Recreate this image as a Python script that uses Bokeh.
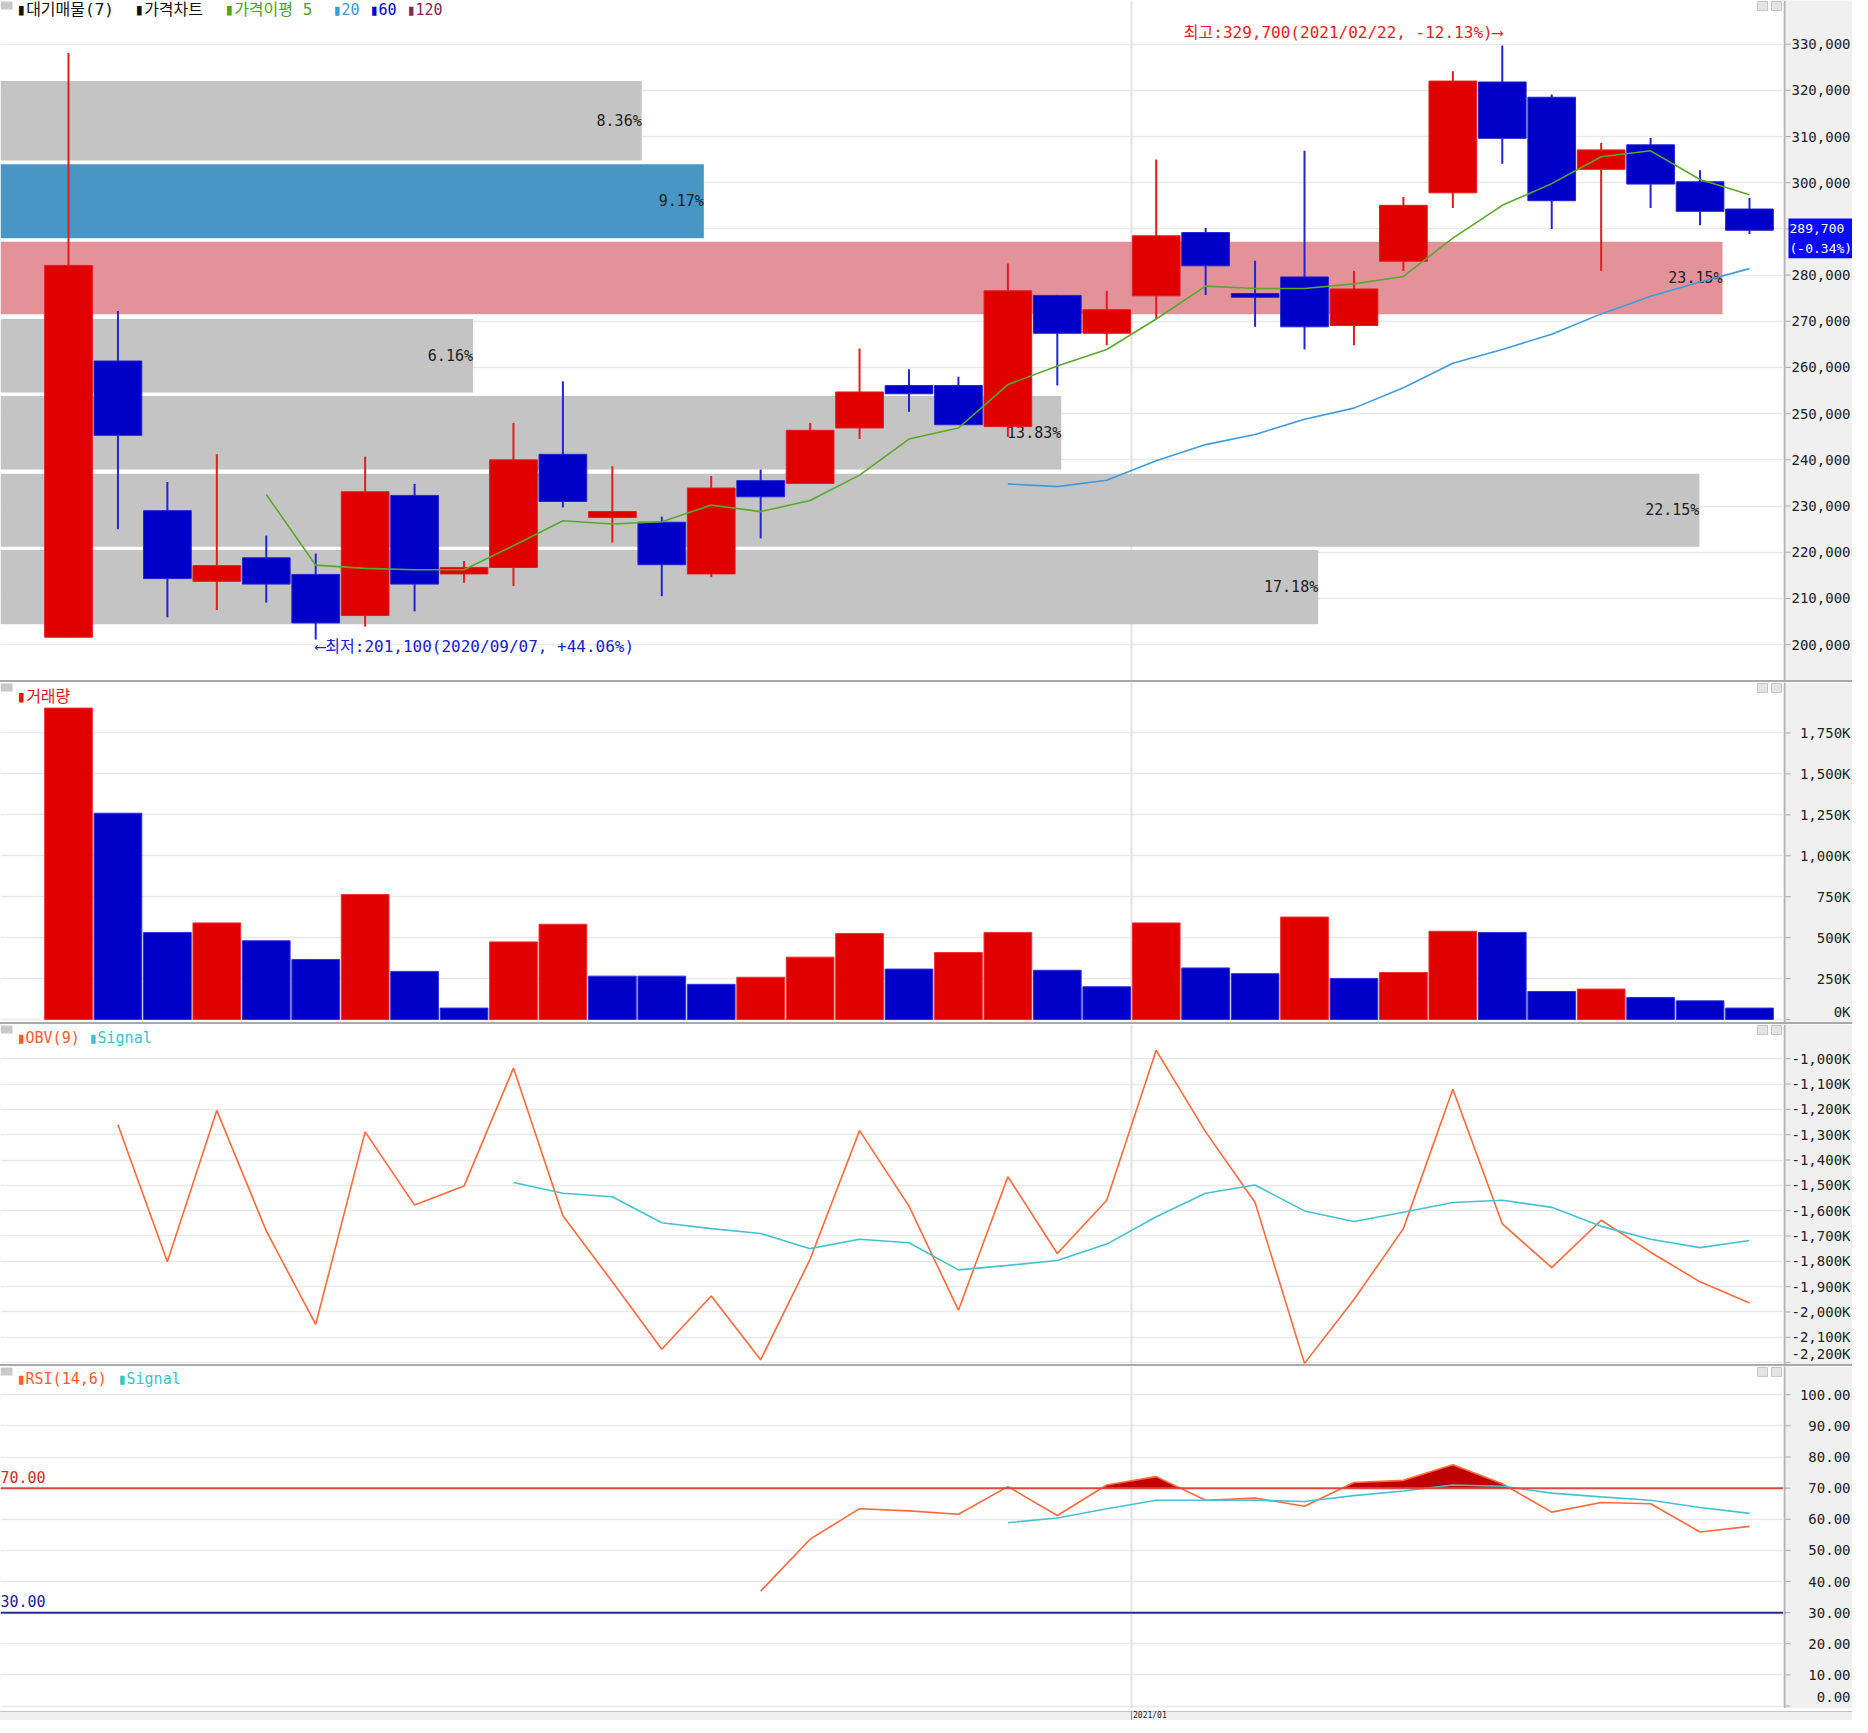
import math
from bokeh.plotting import figure
from bokeh.models import (Range1d, FixedTicker, Label, Span, Div, ColumnDataSource, BoxAnnotation)
from bokeh.layouts import column, row
from bokeh.embed import file_html
from bokeh.resources import INLINE
from bokeh.core.properties import value

NaN = float("nan")

# ---------------- data ----------------
week_dates = ["2020/08/03", "2020/08/10", "2020/08/17", "2020/08/24", "2020/08/31",
              "2020/09/07", "2020/09/14", "2020/09/21", "2020/09/28", "2020/10/05",
              "2020/10/12", "2020/10/19", "2020/10/26", "2020/11/02", "2020/11/09",
              "2020/11/16", "2020/11/23", "2020/11/30", "2020/12/07", "2020/12/14",
              "2020/12/21", "2020/12/28", "2021/01/04", "2021/01/11", "2021/01/18",
              "2021/01/25", "2021/02/01", "2021/02/08", "2021/02/15", "2021/02/22",
              "2021/03/01", "2021/03/08", "2021/03/15", "2021/03/22", "2021/03/29"]

open_ = [201600, 261400, 229000, 213700, 218800, 215200, 206300, 232300, 215300, 216700,
         241200, 227500, 226500, 215300, 235500, 234900, 246900, 256100, 256100, 247200,
         275600, 267400, 275500, 289200, 276000, 279600, 269100, 283000, 297800, 321800,
         318500, 302900, 308200, 300200, 294300]
high = [328100, 272200, 235200, 241200, 223600, 219700, 240700, 234800, 218100, 248000,
        257000, 238600, 227700, 236500, 237900, 248000, 264100, 259600, 258000, 282500,
        275700, 276600, 305000, 290200, 283100, 306900, 280900, 296900, 324100, 329700,
        319100, 308600, 309700, 302700, 296700]
low = [201600, 225000, 205900, 207500, 209100, 201100, 203900, 207200, 213400, 212700,
       229700, 222100, 210500, 214600, 223000, 234900, 244500, 250400, 247600, 245000,
       256100, 264800, 270500, 275700, 268800, 263900, 264800, 280900, 294500, 304100,
       290000, 280900, 294500, 290800, 288900]
close = [282100, 245300, 214300, 217100, 213100, 204700, 233100, 213100, 216700, 240000,
         231000, 228800, 217300, 233900, 232000, 246400, 254700, 254300, 247600, 276600,
         267400, 272500, 288500, 282000, 275200, 268800, 277000, 295100, 322000, 309600,
         296100, 307100, 299700, 293800, 289700]
last_change_pct = -0.34

ma5 = [NaN] * 4 + [232500, 217200, 216500, 216200, 216200, 221400, 226800, 226100, 226600,
                   230200, 228800, 231200, 236700, 244500, 246900, 256300, 260300, 263900,
                   270500, 277600, 277100, 277100, 278100, 279700, 288000, 295100, 299800,
                   305600, 306900, 300700, 297400]
ma20 = [NaN] * 19 + [234800, 234200, 235600, 239800, 243300, 245500, 248800, 251200, 255600,
                     260900, 263900, 267200, 271600, 275400, 278500, 281400]

# volume profile (대기매물)
profile_top = [322000, 304000, 287200, 270500, 253800, 237000, 220500]
profile_bottom = [304800, 288000, 271500, 254600, 237900, 221200, 204400]
profile_pct = [8.36, 9.17, 23.15, 6.16, 13.83, 22.15, 17.18]
profile_color = ["#c4c4c4", "#4896c6", "#e4929a", "#c4c4c4", "#c4c4c4", "#c4c4c4", "#c4c4c4"]

volume_k = [1902, 1260, 532, 590, 481, 366, 763, 294, 70, 474, 582, 265, 265, 215, 258, 381,
            525, 308, 409, 532, 301, 200, 590, 315, 280, 626, 251, 287, 539, 532, 171, 186,
            135, 114, 70]
volume_dir = ["up", "down", "down", "up", "down", "down", "up", "down", "down", "up", "up",
              "down", "down", "down", "up", "up", "up", "down", "up", "up", "down", "down",
              "up", "down", "down", "up", "down", "up", "up", "down", "down", "up", "down",
              "down", "down"]

obv_k = [NaN, -1261, -1802, -1205, -1680, -2049, -1289, -1578, -1503, -1037, -1620, -1881,
         -2147, -1937, -2189, -1792, -1284, -1582, -1993, -1466, -1769, -1559, -967, -1289,
         -1568, -2203, -1951, -1671, -1121, -1652, -1825, -1638, -1764, -1881, -1965]
obv_signal_k = [NaN] * 9 + [-1489, -1531, -1545, -1648, -1671, -1690, -1750, -1713, -1727,
                            -1834, -1816, -1797, -1732, -1624, -1531, -1499, -1601, -1643,
                            -1606, -1568, -1559, -1587, -1662, -1713, -1746, -1718]

rsi = [NaN] * 14 + [36.9, 53.6, 63.4, 62.7, 61.6, 70.5, 61.2, 71.0, 73.7, 66.1, 66.8, 64.2,
                    71.8, 72.5, 77.5, 71.4, 62.3, 65.4, 65.0, 55.9, 57.7]
rsi_signal = [NaN] * 19 + [58.9, 60.4, 63.4, 66.1, 66.1, 66.1, 65.7, 67.6, 69.1, 71.0, 70.6,
                           68.4, 67.2, 66.1, 63.8, 61.9]

price_ticks = [200000, 210000, 220000, 230000, 240000, 250000, 260000, 270000, 280000,
               290000, 300000, 310000, 320000, 330000]
vol_ticks = [0, 250, 500, 750, 1000, 1250, 1500, 1750]
obv_ticks = [-1000, -1100, -1200, -1300, -1400, -1500, -1600, -1700, -1800, -1900, -2000,
             -2100, -2200]
rsi_ticks = [0, 10, 20, 30, 40, 50, 60, 70, 80, 90, 100]

# ---------------- layout constants ----------------
FW = 1783          # main frame width (px)
SW = 69            # right axis strip width (px)
W = FW + SW
X0, X1 = -1.3754, 34.688
idx = list(range(len(close)))


def xr(px):
    return X0 + px / FW * (X1 - X0)


MONO = "'DejaVu Sans Mono', 'Noto Sans CJK KR', monospace"
RED = "#e00000"
BLUE = "#0000c8"
FIRST_2021 = next(i for i, d in enumerate(week_dates) if d.startswith("2021"))


# reference pixel -> value maps for each panel
def P(y):
    return 330000 - (y - 44) * 214.59


def V(y):
    return (1028 - y) * 6.0533


def O(y):
    return -1000 - (y - 1067.5) * 3.9139


def R(y):
    return 70 - (y - 1500.7) / 3.14


def panel(h, ymap, ref_top, ref_bot, ticks, labels, label_pos=None):
    yr = Range1d(ymap(ref_bot), ymap(ref_top))
    p = figure(width=FW, height=h, x_range=Range1d(X0, X1), y_range=yr,
               output_backend="svg", toolbar_location=None, tools="",
               x_axis_location=None, y_axis_location=None,
               min_border_left=0, min_border_right=0, min_border_top=0, min_border_bottom=0,
               outline_line_color=None, background_fill_color="white",
               border_fill_color="white")
    p.ygrid.ticker = FixedTicker(ticks=ticks)
    p.ygrid.grid_line_color = "#e9e9e9"
    p.ygrid.grid_line_width = 1.5
    p.xgrid.grid_line_color = None
    p.add_layout(Span(location=FIRST_2021 - 0.5, dimension="height", line_color="#e2e2e2",
                      line_width=2, level="underlay"))
    # small window icons
    p.add_layout(BoxAnnotation(left=xr(0), right=xr(12), top=ymap(ref_top + 1),
                               bottom=ymap(ref_top + 9), fill_color="#c8c8c8", fill_alpha=1,
                               line_color=None))
    for l in (1757, 1771):
        p.add_layout(BoxAnnotation(left=xr(l), right=xr(l + 10), top=ymap(ref_top + 1),
                                   bottom=ymap(ref_top + 10), fill_color="#e4e4e4",
                                   fill_alpha=1, line_color="#c4c4c4", line_alpha=1))
    # right axis strip
    s = figure(width=SW, height=h, x_range=Range1d(0, SW), y_range=yr,
               output_backend="svg", toolbar_location=None, tools="",
               x_axis_location=None, y_axis_location=None,
               min_border_left=0, min_border_right=0, min_border_top=0, min_border_bottom=0,
               outline_line_color=None, background_fill_color="#f0f0f0",
               border_fill_color="#f0f0f0")
    s.grid.grid_line_color = None
    s.add_layout(Span(location=1, dimension="height", line_color="#b4b4b4", line_width=2))
    s.segment(x0=[2] * len(ticks), x1=[7] * len(ticks), y0=ticks, y1=ticks,
              line_color="#a8a8a8", line_width=1)
    ypos = label_pos if label_pos is not None else ticks
    s.text(x=[SW - 2] * len(ticks), y=ypos, text=labels, text_align="right",
           text_baseline="middle", text_font=value(MONO), text_font_size="14px",
           text_color="#222222")
    return p, s


def label(p, x, y, text, color, size="15px", align="left", font=MONO, **kw):
    p.add_layout(Label(x=x, y=y, text=text, text_color=color, text_font_size=size,
                       text_font=font, text_align=align, text_baseline="middle", **kw))


# ---------------- price panel ----------------
pp, sp = panel(680, P, 0, 686, price_ticks, [f"{v:,}" for v in price_ticks])
prof_right = [xr(min(pct * 76.7, 1722)) for pct in profile_pct]
pp.quad(left=[X0] * len(profile_pct), right=prof_right, top=profile_top,
        bottom=profile_bottom, fill_color=profile_color, line_color=None)
pp.text(x=prof_right, y=[(a + b) / 2 for a, b in zip(profile_top, profile_bottom)],
        text=[f"{v:.2f}%" for v in profile_pct], text_align="right", text_baseline="middle",
        text_font=value(MONO), text_font_size="15px", text_color="#1e1e1e")

up = [c >= o for o, c in zip(open_, close)]
csrc = ColumnDataSource(dict(
    x=idx, high=high, low=low,
    top=[max(o, c) for o, c in zip(open_, close)],
    bottom=[min(o, c) for o, c in zip(open_, close)],
    fill=[RED if u else BLUE for u in up],
    wick=["#e41c1c" if u else "#2424d0" for u in up]))
pp.segment(x0="x", y0="low", x1="x", y1="high", line_color="wick", line_width=2, source=csrc)
pp.vbar(x="x", width=0.965, top="top", bottom="bottom", fill_color="fill",
        line_color="wick", line_width=1, source=csrc)
pp.line(idx, ma5, line_color="#5aa82a", line_width=1.6)
pp.line(idx, ma20, line_color="#3d9be2", line_width=1.6)

hi_i = max(idx, key=lambda i: high[i])
lo_i = min(idx, key=lambda i: low[i])
hi_txt = f"최고:{high[hi_i]:,}({week_dates[hi_i]}, {(close[-1] / high[hi_i] - 1) * 100:+.2f}%)⟶"
lo_txt = f"⟵최저:{low[lo_i]:,}({week_dates[lo_i]}, {(close[-1] / low[lo_i] - 1) * 100:+.2f}%)"
label(pp, hi_i, P(32), hi_txt, "#e41e1e", size="16px", align="right")
label(pp, lo_i, P(652), lo_txt, "#2020c8", size="16px", align="left")

for txt, col, px in [("▮대기매물(7)", "#111111", 16), ("▮가격차트", "#111111", 134),
                     ("▮가격이평 5", "#4ea020", 224), ("▮20", "#3a9ae0", 332),
                     ("▮60", "#0000d0", 369), ("▮120", "#8a2255", 406)]:
    label(pp, xr(px), P(9.5), txt, col, size="16px" if px < 300 else "15px")

# current price tag on the axis strip
sp.quad(left=[5], right=[SW], top=[P(220)], bottom=[P(260)], fill_color="#0a0aff",
        line_color=None)
sp.text(x=[6, 6], y=[P(230), P(250)],
        text=[f"{close[-1]:,}", f"({last_change_pct:.2f}%)"], text_align="left",
        text_baseline="middle", text_font=value(MONO), text_font_size="13px",
        text_color="#ffffff")

# ---------------- volume panel ----------------
vol_label_pos = [v if v != 0 else V(1020) for v in vol_ticks]
pv, sv = panel(340, V, 688, 1031, vol_ticks, [f"{v:,}K" for v in vol_ticks], vol_label_pos)
pv.vbar(x=idx, width=0.965, top=volume_k, bottom=0,
        fill_color=[RED if d == "up" else BLUE for d in volume_dir],
        line_color=["#ee3030" if d == "up" else "#3030dd" for d in volume_dir], line_width=1)
label(pv, xr(16), V(702), "▮거래량", "#e01818", size="16px")

# ---------------- OBV panel ----------------
obv_label_pos = [v if v != obv_ticks[-1] else O(1365) for v in obv_ticks]
po, so = panel(340, O, 1033, 1376, obv_ticks, [f"{v:,}K" for v in obv_ticks], obv_label_pos)
po.line(idx, obv_k, line_color="#ff6a3a", line_width=1.6)
po.line(idx, obv_signal_k, line_color="#45c2d2", line_width=1.6)
label(po, xr(16), O(1047), "▮OBV(9)", "#ff5a2a")
label(po, xr(88), O(1047), "▮Signal", "#3ebfd0")

# ---------------- RSI panel ----------------
rsi_label_pos = [v if v != 0 else R(1711) for v in rsi_ticks]
pr, sr = panel(342, R, 1378, 1723, rsi_ticks, [f"{v:.2f}" for v in rsi_ticks], rsi_label_pos)
fx, fy = [], []
valid = [i for i in idx if not math.isnan(rsi[i])]
for k, i in enumerate(valid):
    fx.append(i)
    fy.append(max(rsi[i], 70))
    if k + 1 < len(valid):
        j = valid[k + 1]
        a, b = rsi[i] - 70, rsi[j] - 70
        if a * b < 0:
            fx.append(i + a / (a - b))
            fy.append(70)
pr.varea(x=fx, y1=[70] * len(fx), y2=fy, fill_color="#c00000")
pr.add_layout(Span(location=70, dimension="width", line_color="#e04646", line_width=2))
pr.add_layout(Span(location=30, dimension="width", line_color="#2a2a98", line_width=2))
sr.segment(x0=[0, 0], x1=[2, 2], y0=[70, 30], y1=[70, 30], line_color=["#e04646", "#2a2a98"],
           line_width=2)
pr.line(idx, rsi, line_color="#ff6a3a", line_width=1.6)
pr.line(idx, rsi_signal, line_color="#45c2d2", line_width=1.6)
label(pr, xr(16), R(1391), "▮RSI(14,6)", "#ff5a2a")
label(pr, xr(117), R(1391), "▮Signal", "#3ebfd0")
label(pr, xr(0), R(1489), "70.00", "#d02a2a")
label(pr, xr(0), R(1615), "30.00", "#20208e")


def sep():
    return Div(width=W, height=2, margin=0, styles={"background-color": "#a9a9a9"})


tick_px = int(round((FIRST_2021 - 0.5 - X0) / (X1 - X0) * FW))
bottom = Div(width=W, height=9, margin=0, text=(
    f'<div style="position:relative;width:{W}px;height:9px;overflow:hidden;background:#f0f0f0;">'
    f'<div style="position:absolute;left:0;top:0;width:{W}px;height:1px;background:#c4c4c4"></div>'
    f'<div style="position:absolute;left:{tick_px}px;top:0;width:1px;height:9px;background:#8c8c8c"></div>'
    f'<span style="position:absolute;left:{tick_px + 2}px;top:1px;font-family:DejaVu Sans Mono;'
    f'font-size:8px;line-height:8px;color:#222">{week_dates[FIRST_2021][:7]}</span></div>'))

layout = column(row(pp, sp, spacing=0), sep(), row(pv, sv, spacing=0), sep(),
                row(po, so, spacing=0), sep(), row(pr, sr, spacing=0), bottom, spacing=0)
open("out.html", "w").write(file_html(layout, INLINE))
